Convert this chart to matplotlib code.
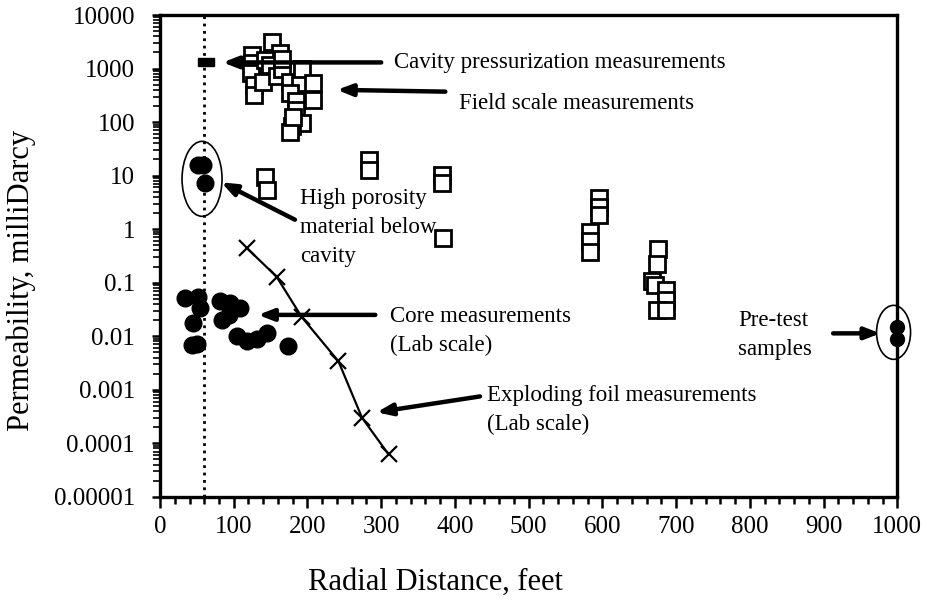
import numpy as np
import matplotlib.pyplot as plt
from matplotlib.patches import Ellipse
from matplotlib.ticker import LogLocator, FixedLocator, NullFormatter

plt.rcParams["font.family"] = ["Liberation Serif", "DejaVu Serif"]

# field scale measurements (open squares)
field_x = [152, 163, 125, 125, 124, 127, 127, 140, 142, 149, 158, 165, 165,
           176, 190, 192, 208, 208, 176, 185, 185, 192, 179, 176, 181,
           142, 145, 283, 283, 382, 382, 384,
           596, 596, 596, 583, 583, 583,
           676, 674, 668, 671, 687, 687, 674, 687]
field_y = [3100, 1980, 1800, 1260, 820, 490, 320, 570, 1450, 1170, 710, 1000, 1500,
           570, 530, 1000, 540, 257, 345, 243, 170, 95, 83, 65, 126,
           9.6, 5.4, 19.7, 12.8, 10.4, 7.2, 0.68,
           3.8, 2.6, 1.85, 0.9, 0.59, 0.38,
           0.42, 0.22, 0.107, 0.09, 0.074, 0.048, 0.031, 0.031]

# cavity pressurization measurement
cavity_x = [57, 68]
cavity_y = [1300, 1300]

# high porosity material below the cavity
hp_x = [52, 58, 61]
hp_y = [15.5, 15.5, 7.2]

# core measurements (lab scale)
core_x = [34, 52, 54, 45, 43, 50, 81, 95, 108, 84, 93, 104, 118, 131, 145, 174]
core_y = [0.052, 0.055, 0.034, 0.018, 0.0068, 0.0072, 0.045, 0.042, 0.034,
          0.020, 0.025, 0.010, 0.008, 0.0087, 0.0115, 0.0065]

# exploding foil measurements (lab scale)
foil_x = [118, 158, 192, 242, 274, 310]
foil_y = [0.44, 0.13, 0.023, 0.0034, 0.0003, 0.000062]

# pre-test samples
pre_x = [1000, 1000]
pre_y = [0.015, 0.009]

fig = plt.figure(figsize=(9.25, 6), dpi=100)
ax = fig.add_axes([0.173, 0.172, 0.797, 0.803])

ax.set_yscale("log")
ax.set_xlim(0, 1000)
ax.set_ylim(1e-5, 1e4)

ax.axvline(60, color="black", ls=":", lw=2, zorder=1)

ax.plot(field_x, field_y, "s", ms=11.5, mfc="white", mec="black", mew=2, zorder=3)
ax.plot(cavity_x, cavity_y, "s", ms=6, mfc="black", mec="black", zorder=3)
ax.plot(hp_x, hp_y, "o", ms=12, color="black", zorder=3)
ax.plot(core_x, core_y, "o", ms=12, color="black", zorder=3)
ax.plot(foil_x, foil_y, "-x", ms=12, mew=1.6, lw=1.6, color="black", zorder=3)
ax.plot(pre_x, pre_y, "o", ms=10, color="black", zorder=4, clip_on=False)


def frac(x, y):
    return x / 1000.0, (np.log10(y) + 5) / 9.0


# ellipses round the circled groups
cx, cy = frac(57, 8.7)
ax.add_patch(Ellipse((cx, cy), 40 / 737, 75 / 482, transform=ax.transAxes,
                     fill=False, ec="black", lw=1.2))
cx, cy = frac(995, 0.0118)
ax.add_patch(Ellipse((cx, cy), 34 / 737, 54 / 482, transform=ax.transAxes,
                     fill=False, ec="black", lw=1.2, clip_on=False))

arrow = dict(arrowstyle="-|>,head_length=0.9,head_width=0.35", lw=3.2,
             color="black", shrinkA=0, shrinkB=0)
fs = 16.5
ls = 1.5

ax.annotate("", xy=(85, 1300), xytext=(300, 1300), arrowprops=arrow)
ax.text(318, 1300, "Cavity pressurization measurements", fontsize=fs, va="center")

ax.annotate("", xy=(240, 400), xytext=(387, 370), arrowprops=arrow)
ax.text(405, 220, "Field scale measurements", fontsize=fs, va="center")

ax.annotate("", xy=(83, 7.5), xytext=(183, 1.5), arrowprops=arrow)
ax.text(190, 5.8, "High porosity\nmaterial below\ncavity", fontsize=fs,
        va="top", linespacing=ls)

ax.annotate("", xy=(133, 0.025), xytext=(292, 0.025), arrowprops=arrow)
ax.text(312, 0.0043, "Core measurements\n(Lab scale)", fontsize=fs,
        va="bottom", linespacing=ls)

ax.annotate("", xy=(294, 0.00038), xytext=(434, 0.00075), arrowprops=arrow)
ax.text(444, 0.00014, "Exploding foil measurements\n(Lab scale)", fontsize=fs,
        va="bottom", linespacing=ls)

ax.annotate("", xy=(977, 0.0113), xytext=(913, 0.0113), arrowprops=arrow)
ax.text(784, 0.0105, "Pre-test\nsamples", fontsize=fs, va="center",
        linespacing=ls)

# axes styling
for s in ax.spines.values():
    s.set_linewidth(2.4)

ax.xaxis.set_major_locator(FixedLocator(np.arange(0, 1001, 100)))
ax.xaxis.set_minor_locator(FixedLocator(np.arange(0, 1001, 20)))
ax.yaxis.set_major_locator(LogLocator(base=10, numticks=12))
ax.yaxis.set_minor_locator(LogLocator(base=10, subs=np.arange(2, 10), numticks=12))
ax.yaxis.set_minor_formatter(NullFormatter())
ylabels = ["0.00001", "0.0001", "0.001", "0.01", "0.1", "1", "10", "100",
           "1000", "10000"]
ax.set_yticks([10.0 ** k for k in range(-5, 5)])
ax.set_yticklabels(ylabels)

ax.tick_params(axis="both", which="major", direction="out", width=1.8,
               labelsize=18)
ax.tick_params(axis="x", which="major", length=8, pad=6)
ax.tick_params(axis="x", which="minor", length=5, width=1.8)
ax.tick_params(axis="y", which="major", length=6, pad=12)
ax.tick_params(axis="y", which="minor", length=5, width=1.2)

ax.set_xlabel("Radial Distance, feet", fontsize=22)
ax.set_ylabel("Permeability, milliDarcy", fontsize=22)
ax.xaxis.set_label_coords(0.374, -0.147)
ax.yaxis.set_label_coords(-0.168, 0.45)

fig.savefig("out.png", dpi=100)
